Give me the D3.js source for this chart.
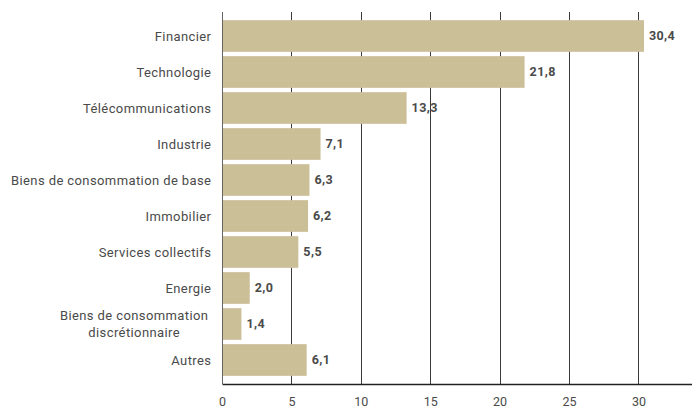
<!DOCTYPE html>
<html>
<head>
<meta charset="utf-8">
<script src="https://cdn.jsdelivr.net/npm/d3@7"></script>
<style>
  html, body { margin: 0; padding: 0; background: #fff; }
  svg { display: block; font-family: Roboto, "Noto Sans", sans-serif; }
</style>
</head>
<body>
<div id="chart"></div>
<script>
// sectors (label lines split with "\n")
const categories = [
    "Financier",
    "Technologie",
    "Télécommunications",
    "Industrie",
    "Biens de consommation de base",
    "Immobilier",
    "Services collectifs",
    "Energie",
    "Biens de consommation\ndiscrétionnaire",
    "Autres"
];
const values = [30.4, 21.8, 13.3, 7.1, 6.3, 6.2, 5.5, 2.0, 1.4, 6.1];
const xTicks = [0, 5, 10, 15, 20, 25, 30];

const width = 692;
const height = 410;
const margin = { top: 12, right: 0, bottom: 26, left: 222 };

const barColor = "#cbbf98";
const textColor = "#4a4a4a";
const gridColor = "#3a3a3a";
const labelSpacing = 0.4;

const svg = d3.select("#chart").append("svg")
    .attr("width", width)
    .attr("height", height);

const x = d3.scaleLinear()
    .domain([0, 33.86])
    .range([margin.left, width - margin.right]);

const y = d3.scaleBand()
    .domain(categories)
    .range([18, 378])
    .paddingInner(0.12)
    .paddingOuter(0.06);

const axisY = height - margin.bottom;

// vertical grid
svg.append("g")
    .selectAll("line")
    .data(xTicks.filter(d => d > 0))
    .join("line")
    .attr("x1", d => Math.round(x(d)) + 0.5)
    .attr("x2", d => Math.round(x(d)) + 0.5)
    .attr("y1", margin.top)
    .attr("y2", axisY)
    .attr("stroke", gridColor)
    .attr("stroke-width", 1);

// bars
const data = categories.map((c, i) => ({ cat: c, val: values[i] }));

svg.append("g")
    .selectAll("rect")
    .data(data)
    .join("rect")
    .attr("x", x(0) + 1)
    .attr("y", d => y(d.cat))
    .attr("width", d => x(d.val) - x(0) - 1)
    .attr("height", y.bandwidth())
    .attr("fill", barColor);

// value labels
svg.append("g")
    .selectAll("text")
    .data(data)
    .join("text")
    .attr("x", d => x(d.val) + 5)
    .attr("y", d => y(d.cat) + y.bandwidth() / 2)
    .attr("dy", "0.35em")
    .attr("fill", textColor)
    .attr("font-size", 12.5)
    .attr("font-weight", "bold")
    .attr("letter-spacing", 0.4)
    .text(d => d3.format(".1f")(d.val).replace(".", ","));

// category labels
const catG = svg.append("g");
data.forEach(d => {
    const lines = d.cat.split("\n");
    const cy = y(d.cat) + y.bandwidth() / 2;
    const lh = 17;
    const t = catG.append("text")
        .attr("fill", textColor)
        .attr("font-size", 13)
        .attr("letter-spacing", labelSpacing);
    lines.forEach((ln, i) => {
        t.append("tspan")
            .attr("x", lines.length > 1 ? 134 + labelSpacing / 2 : 211 + labelSpacing)
            .attr("text-anchor", lines.length > 1 ? "middle" : "end")
            .attr("y", cy + (i - (lines.length - 1) / 2) * lh)
            .attr("dy", "0.35em")
            .text(ln);
    });
});

// left axis line
svg.append("line")
    .attr("x1", margin.left + 0.5)
    .attr("x2", margin.left + 0.5)
    .attr("y1", margin.top)
    .attr("y2", axisY)
    .attr("stroke", "#666")
    .attr("stroke-width", 1);

// bottom axis
const xAxis = svg.append("g")
    .attr("transform", `translate(0, ${axisY})`)
    .call(d3.axisBottom(x).tickValues(xTicks).tickSize(0).tickPadding(13));

xAxis.select(".domain")
    .attr("stroke", "#222")
    .attr("stroke-width", 1.3);

xAxis.selectAll("text")
    .attr("fill", textColor)
    .attr("font-size", 12.5)
    .attr("font-family", "Roboto, sans-serif");
</script>
</body>
</html>
